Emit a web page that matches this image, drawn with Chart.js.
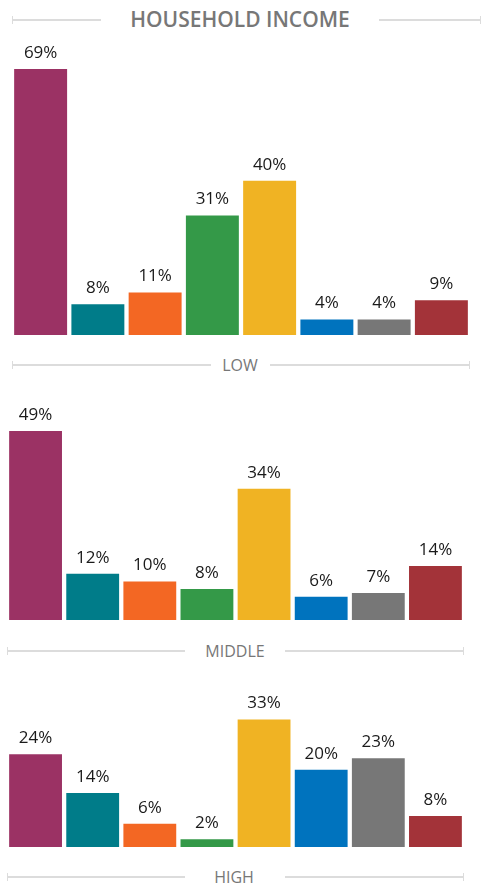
<!DOCTYPE html>
<html>
<head>
<meta charset="utf-8">
<script src="https://cdn.jsdelivr.net/npm/chart.js@4"></script>
<style>
  html, body { margin: 0; padding: 0; background: #fff; }
  body { width: 482px; height: 886px; position: relative; overflow: hidden; font-family: "Open Sans", sans-serif; }
  .box { position: absolute; }
  .rule { position: absolute; height: 2px; background: #dcdcdc; }
  .rule::before, .rule::after { content: ''; position: absolute; top: -3px; width: 1px; height: 8px; background: #dcdcdc; }
  .rule.l::before { left: 0; }
  .rule.r::after { right: 0; }
  .rule.l::after, .rule.r::before { display: none; }
  .lbl { position: absolute; color: #777; font-size: 16px; line-height: 20px; transform: translate(-50%, -50%); white-space: nowrap; }
  .title { font-weight: 600; font-size: 21px; color: #777; }
</style>
</head>
<body>
<div class="rule l" style="left:12px;width:89px;top:19px"></div>
<div class="lbl title" style="left:240px;top:19px">HOUSEHOLD INCOME</div>
<div class="rule r" style="left:379px;width:102px;top:19px"></div>

<div class="box" style="left:12px;top:42px;width:458px;height:293px"><canvas id="lowChart"></canvas></div>
<div class="rule l" style="left:12px;width:199px;top:364px"></div>
<div class="lbl" style="left:240px;top:365px">LOW</div>
<div class="rule r" style="left:270px;width:200px;top:364px"></div>

<div class="box" style="left:7px;top:400px;width:457px;height:220px"><canvas id="middleChart"></canvas></div>
<div class="rule l" style="left:7px;width:178px;top:650px"></div>
<div class="lbl" style="left:235px;top:651px">MIDDLE</div>
<div class="rule r" style="left:285px;width:179px;top:650px"></div>

<div class="box" style="left:7px;top:691px;width:457px;height:156px"><canvas id="highChart"></canvas></div>
<div class="rule l" style="left:7px;width:178px;top:876px"></div>
<div class="lbl" style="left:234px;top:877px">HIGH</div>
<div class="rule r" style="left:285px;width:179px;top:876px"></div>

<script>
const categories = ['A', 'B', 'C', 'D', 'E', 'F', 'G', 'H'];
const lowValues = [69, 8, 11, 31, 40, 4, 4, 9];
const middleValues = [49, 12, 10, 8, 34, 6, 7, 14];
const highValues = [24, 14, 6, 2, 33, 20, 23, 8];
const barColors = ['#9b3264', '#007c89', '#f36723', '#349948', '#f0b323', '#0073be', '#777777', '#a33339'];

// draws the % figure above every bar
const valueLabels = {
    id: 'valueLabels',
    afterDatasetsDraw: function(chart) {
        const ctx = chart.ctx;
        const meta = chart.getDatasetMeta(0);
        const data = chart.data.datasets[0].data;
        ctx.save();
        ctx.font = '17px "Open Sans"';
        ctx.fillStyle = '#1a1a1a';
        ctx.textAlign = 'center';
        ctx.textBaseline = 'middle';
        meta.data.forEach(function(bar, i) {
            ctx.fillText(data[i] + '%', bar.x, bar.y - 16);
        });
        ctx.restore();
    }
};

function makeChart(id, values, yMax) {
    const ctx = document.getElementById(id).getContext('2d');
    return new Chart(ctx, {
        type: 'bar',
        data: {
            labels: categories,
            datasets: [{
                data: values,
                backgroundColor: barColors,
                borderWidth: 0,
                barPercentage: 0.925,
                categoryPercentage: 1
            }]
        },
        options: {
            responsive: true,
            maintainAspectRatio: false,
            animation: false,
            layout: { padding: 0 },
            plugins: { legend: { display: false }, tooltip: { enabled: false } },
            scales: {
                x: { display: false },
                y: { display: false, min: 0, max: yMax }
            }
        },
        plugins: [valueLabels]
    });
}

makeChart('lowChart', lowValues, 76);
makeChart('middleChart', middleValues, 57);
makeChart('highChart', highValues, 40.4);
</script>
</body>
</html>
